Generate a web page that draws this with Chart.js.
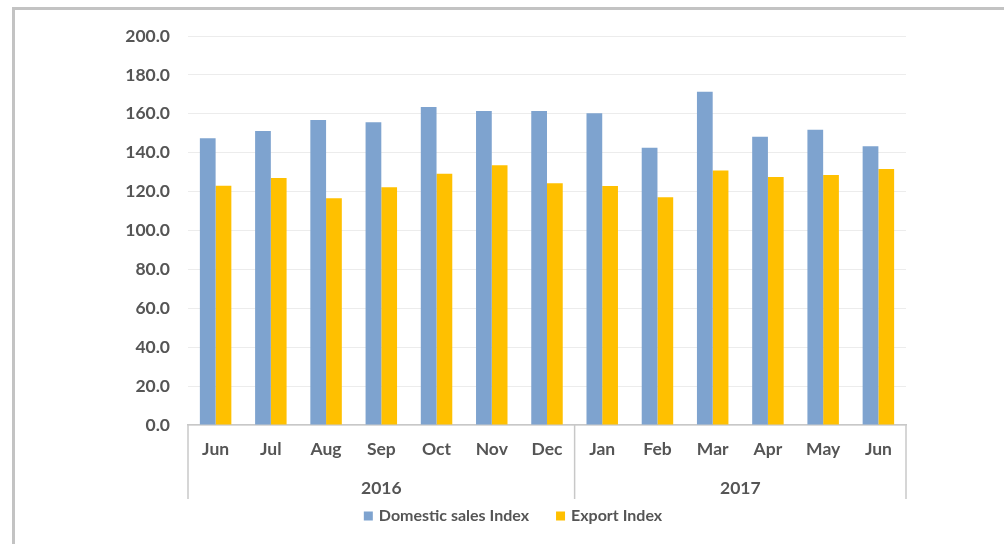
<!DOCTYPE html>
<html>
<head>
<meta charset="utf-8">
<script src="https://cdn.jsdelivr.net/npm/chart.js@4"></script>
<style>
  html, body { margin: 0; padding: 0; background: #fff; }
  #wrap { position: relative; width: 1004px; height: 544px; }
</style>
</head>
<body>
<div id="wrap"><canvas id="indexChart" width="1004" height="544"></canvas></div>
<script>
const months = ["Jun", "Jul", "Aug", "Sep", "Oct", "Nov", "Dec", "Jan", "Feb", "Mar", "Apr", "May", "Jun"];
const years = ["2016", "2017"];
const yearSpans = [7, 6];
const domesticSales = [147.4, 151.2, 156.8, 155.6, 163.5, 161.4, 161.4, 160.3, 142.6, 171.4, 148.2, 151.8, 143.3];
const exportIndex = [123.0, 127.0, 116.6, 122.2, 129.2, 133.5, 124.3, 122.9, 117.1, 130.9, 127.5, 128.5, 131.6];
const yMin = 0;
const yMax = 200;
const yStep = 20;

const textColor = "#555555";
const fontFamily = "Lato, 'Open Sans', sans-serif";

// white background + the grey frame on the top and left
const framePlugin = {
  id: "frame",
  beforeDraw(chart) {
    const ctx = chart.ctx;
    ctx.save();
    ctx.fillStyle = "#fff";
    ctx.fillRect(0, 0, chart.width, chart.height);
    ctx.strokeStyle = "#c3c3c3";
    ctx.lineWidth = 3;
    ctx.beginPath();
    ctx.moveTo(13.5, chart.height);
    ctx.lineTo(13.5, 8.5);
    ctx.lineTo(chart.width, 8.5);
    ctx.stroke();
    ctx.restore();
  },
};

// second row of the category axis: year groups with dividers
const yearAxisPlugin = {
  id: "yearAxis",
  afterDraw(chart) {
    const ctx = chart.ctx;
    const x = chart.scales.x;
    const edges = [x.left];
    let idx = 0;
    yearSpans.forEach((span) => {
      idx += span;
      if (idx >= months.length) {
        edges.push(x.right);
      } else {
        edges.push((x.getPixelForValue(idx - 1) + x.getPixelForValue(idx)) / 2);
      }
    });

    ctx.save();
    ctx.strokeStyle = "#c8c8c8";
    ctx.lineWidth = 1.5;
    edges.forEach((px) => {
      ctx.beginPath();
      ctx.moveTo(px, x.top);
      ctx.lineTo(px, x.bottom);
      ctx.stroke();
    });

    ctx.fillStyle = textColor;
    ctx.font = "bold 17.5px " + fontFamily;
    ctx.textAlign = "center";
    ctx.textBaseline = "middle";
    years.forEach((yr, i) => {
      ctx.fillText(yr, (edges[i] + edges[i + 1]) / 2, 488);
    });
    ctx.restore();
  },
};

// legend drawn by hand so it can sit where the original one is
const legendPlugin = {
  id: "bottomLegend",
  afterDraw(chart) {
    const ctx = chart.ctx;
    const box = 9;
    const gap = 6;
    const itemGap = 27;
    const cy = 516;
    ctx.save();
    ctx.font = "bold 16px " + fontFamily;
    const items = chart.data.datasets.map((ds) => ({
      label: ds.label,
      color: ds.backgroundColor,
      w: ctx.measureText(ds.label).width,
    }));
    let total = 0;
    items.forEach((it, i) => {
      total += box + gap + it.w + (i < items.length - 1 ? itemGap : 0);
    });
    let px = 513 - total / 2;
    ctx.textBaseline = "middle";
    ctx.textAlign = "left";
    items.forEach((it) => {
      ctx.fillStyle = it.color;
      ctx.fillRect(px, cy - box / 2, box, box);
      px += box + gap;
      ctx.fillStyle = textColor;
      ctx.fillText(it.label, px, cy);
      px += it.w + itemGap;
    });
    ctx.restore();
  },
};

const ctx = document.getElementById("indexChart").getContext("2d");
const indexChart = new Chart(ctx, {
  type: "bar",
  data: {
    labels: months,
    datasets: [
      {
        label: "Domestic sales Index",
        data: domesticSales,
        backgroundColor: "#7ea3cf",
        borderWidth: 0,
      },
      {
        label: "Export Index",
        data: exportIndex,
        backgroundColor: "#ffc000",
        borderWidth: 0,
      },
    ],
  },
  options: {
    responsive: false,
    animation: false,
    devicePixelRatio: 1,
    layout: {
      padding: { top: 36, right: 98, bottom: 45, left: 0 },
    },
    datasets: {
      bar: {
        categoryPercentage: 0.57,
        barPercentage: 1.0,
      },
    },
    plugins: {
      tooltip: { enabled: false },
      legend: { display: false },
    },
    scales: {
      x: {
        grid: { display: false, drawTicks: false },
        border: { display: true, color: "#c8c8c8", width: 1.5 },
        ticks: {
          padding: 14,
          color: textColor,
          font: { family: fontFamily, size: 17.5, weight: "bold" },
          maxRotation: 0,
          autoSkip: false,
        },
        afterFit(scale) {
          scale.height = 74;
        },
      },
      y: {
        min: yMin,
        max: yMax,
        grid: { color: "#ececec", lineWidth: 1, drawTicks: false },
        border: { display: false },
        ticks: {
          stepSize: yStep,
          padding: 18,
          color: textColor,
          font: { family: fontFamily, size: 17.5, weight: "bold" },
          callback: (v) => Number(v).toFixed(1),
        },
        afterFit(scale) {
          scale.width = 188;
        },
      },
    },
  },
  plugins: [framePlugin, yearAxisPlugin, legendPlugin],
});
</script>
</body>
</html>
